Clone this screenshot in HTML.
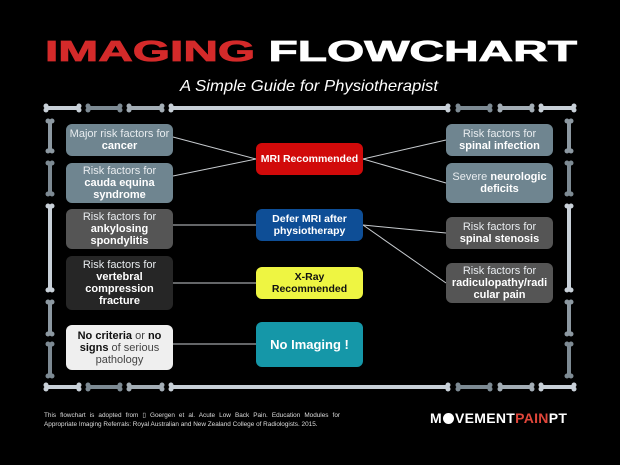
<!DOCTYPE html>
<html><head><meta charset="utf-8"><style>
html,body{margin:0;padding:0;background:#000;}
body{width:620px;height:465px;overflow:hidden;position:relative;font-family:"Liberation Sans",sans-serif;}
.b{position:absolute;border-radius:6px;display:flex;align-items:center;justify-content:center;text-align:center;font-size:11px;line-height:12px;color:#e8ecef;box-sizing:border-box;padding:0 3px;}
.b b{font-weight:bold;color:#fff;}
.c{font-weight:bold;font-size:10.5px;padding:0 2px;}
</style></head><body>
<svg width="620" height="465" style="position:absolute;left:0;top:0">
<text x="311" y="61" text-anchor="middle" font-family="Liberation Sans" font-weight="bold" font-size="29" stroke-width="0.8" textLength="532" lengthAdjust="spacingAndGlyphs"><tspan fill="#d42a2a" stroke="#d42a2a">IMAGING</tspan><tspan fill="#fff" stroke="#fff"> FLOWCHART</tspan></text>
<text x="309" y="91" text-anchor="middle" font-family="Liberation Sans" font-style="italic" font-size="16" fill="#fff" textLength="258" lengthAdjust="spacingAndGlyphs">A Simple Guide for Physiotherapist</text>
<g stroke-linecap="round">
<g id="h">
<line x1="47" y1="108" x2="78" y2="108" stroke="#c8d0d8" stroke-width="4"/>
<circle cx="46" cy="106" r="2.5" fill="#c8d0d8"/><circle cx="46" cy="110" r="2.5" fill="#c8d0d8"/><circle cx="79" cy="106" r="2.5" fill="#c8d0d8"/><circle cx="79" cy="110" r="2.5" fill="#c8d0d8"/>
<line x1="89" y1="108" x2="119" y2="108" stroke="#7d8a93" stroke-width="4"/>
<circle cx="88" cy="106" r="2.5" fill="#7d8a93"/><circle cx="88" cy="110" r="2.5" fill="#7d8a93"/><circle cx="120" cy="106" r="2.5" fill="#7d8a93"/><circle cx="120" cy="110" r="2.5" fill="#7d8a93"/>
<line x1="130" y1="108" x2="161" y2="108" stroke="#a3adb5" stroke-width="4"/>
<circle cx="129" cy="106" r="2.5" fill="#a3adb5"/><circle cx="129" cy="110" r="2.5" fill="#a3adb5"/><circle cx="162" cy="106" r="2.5" fill="#a3adb5"/><circle cx="162" cy="110" r="2.5" fill="#a3adb5"/>
<line x1="172" y1="108" x2="447" y2="108" stroke="#c8d0d8" stroke-width="4"/>
<circle cx="171" cy="106" r="2.5" fill="#c8d0d8"/><circle cx="171" cy="110" r="2.5" fill="#c8d0d8"/><circle cx="448" cy="106" r="2.5" fill="#c8d0d8"/><circle cx="448" cy="110" r="2.5" fill="#c8d0d8"/>
<line x1="459" y1="108" x2="489" y2="108" stroke="#7d8a93" stroke-width="4"/>
<circle cx="458" cy="106" r="2.5" fill="#7d8a93"/><circle cx="458" cy="110" r="2.5" fill="#7d8a93"/><circle cx="490" cy="106" r="2.5" fill="#7d8a93"/><circle cx="490" cy="110" r="2.5" fill="#7d8a93"/>
<line x1="501" y1="108" x2="531" y2="108" stroke="#a3adb5" stroke-width="4"/>
<circle cx="500" cy="106" r="2.5" fill="#a3adb5"/><circle cx="500" cy="110" r="2.5" fill="#a3adb5"/><circle cx="532" cy="106" r="2.5" fill="#a3adb5"/><circle cx="532" cy="110" r="2.5" fill="#a3adb5"/>
<line x1="542" y1="108" x2="573" y2="108" stroke="#c8d0d8" stroke-width="4"/>
<circle cx="541" cy="106" r="2.5" fill="#c8d0d8"/><circle cx="541" cy="110" r="2.5" fill="#c8d0d8"/><circle cx="574" cy="106" r="2.5" fill="#c8d0d8"/><circle cx="574" cy="110" r="2.5" fill="#c8d0d8"/>
</g>
<use href="#h" y="279"/>
<g id="v">
<line x1="50" y1="122" x2="50" y2="150" stroke="#8c98a1" stroke-width="4"/>
<circle cx="48" cy="121" r="2.5" fill="#8c98a1"/><circle cx="52" cy="121" r="2.5" fill="#8c98a1"/><circle cx="48" cy="151" r="2.5" fill="#8c98a1"/><circle cx="52" cy="151" r="2.5" fill="#8c98a1"/>
<line x1="50" y1="164" x2="50" y2="193" stroke="#7d8a93" stroke-width="4"/>
<circle cx="48" cy="163" r="2.5" fill="#7d8a93"/><circle cx="52" cy="163" r="2.5" fill="#7d8a93"/><circle cx="48" cy="194" r="2.5" fill="#7d8a93"/><circle cx="52" cy="194" r="2.5" fill="#7d8a93"/>
<line x1="50" y1="207" x2="50" y2="289" stroke="#c8d0d8" stroke-width="4"/>
<circle cx="48" cy="206" r="2.5" fill="#c8d0d8"/><circle cx="52" cy="206" r="2.5" fill="#c8d0d8"/><circle cx="48" cy="290" r="2.5" fill="#c8d0d8"/><circle cx="52" cy="290" r="2.5" fill="#c8d0d8"/>
<line x1="50" y1="303" x2="50" y2="333" stroke="#8c98a1" stroke-width="4"/>
<circle cx="48" cy="302" r="2.5" fill="#8c98a1"/><circle cx="52" cy="302" r="2.5" fill="#8c98a1"/><circle cx="48" cy="334" r="2.5" fill="#8c98a1"/><circle cx="52" cy="334" r="2.5" fill="#8c98a1"/>
<line x1="50" y1="345" x2="50" y2="375" stroke="#7d8a93" stroke-width="4"/>
<circle cx="48" cy="344" r="2.5" fill="#7d8a93"/><circle cx="52" cy="344" r="2.5" fill="#7d8a93"/><circle cx="48" cy="376" r="2.5" fill="#7d8a93"/><circle cx="52" cy="376" r="2.5" fill="#7d8a93"/>
</g>
<use href="#v" x="519"/>
</g>
<g stroke="#c8ccd0" stroke-width="1">
<line x1="173" y1="137" x2="256" y2="159"/>
<line x1="173" y1="176" x2="256" y2="159"/>
<line x1="173" y1="225" x2="256" y2="225"/>
<line x1="173" y1="283" x2="256" y2="283"/>
<line x1="173" y1="344" x2="256" y2="344"/>
<line x1="363" y1="159" x2="446" y2="140"/>
<line x1="363" y1="159" x2="446" y2="183"/>
<line x1="363" y1="225" x2="446" y2="233"/>
<line x1="363" y1="225" x2="446" y2="283"/>
</g>
</svg>
<div class="b" style="left:66px;top:124px;width:107px;height:32px;background:#6f8590"><span>Major risk factors for<br><b>cancer</b></span></div>
<div class="b" style="left:66px;top:163px;width:107px;height:40px;background:#6f8590"><span>Risk factors for<br><b>cauda equina<br>syndrome</b></span></div>
<div class="b" style="left:66px;top:209px;width:107px;height:40px;background:#555"><span>Risk factors for<br><b>ankylosing<br>spondylitis</b></span></div>
<div class="b" style="left:66px;top:256px;width:107px;height:54px;background:#262626"><span>Risk factors for<br><b>vertebral<br>compression<br>fracture</b></span></div>
<div class="b" style="left:66px;top:325px;width:107px;height:45px;background:#efefef;color:#444"><span><b style="color:#111">No criteria</b> or <b style="color:#111">no<br>signs</b> of serious<br>pathology</span></div>

<div class="b c" style="left:256px;top:143px;width:107px;height:32px;background:#d10a0a;color:#fff"><span style="white-space:nowrap">MRI Recommended</span></div>
<div class="b c" style="left:256px;top:209px;width:107px;height:32px;background:#0e4e96;color:#fff"><span>Defer MRI after<br>physiotherapy</span></div>
<div class="b c" style="left:256px;top:267px;width:107px;height:32px;background:#eef542;color:#111"><span>X-Ray<br>Recommended</span></div>
<div class="b c" style="left:256px;top:322px;width:107px;height:45px;background:#1597a8;color:#fff;font-size:13px"><span>No Imaging !</span></div>

<div class="b" style="left:446px;top:124px;width:107px;height:32px;background:#6f8590"><span>Risk factors for<br><b>spinal infection</b></span></div>
<div class="b" style="left:446px;top:163px;width:107px;height:40px;background:#6f8590"><span>Severe <b>neurologic<br>deficits</b></span></div>
<div class="b" style="left:446px;top:217px;width:107px;height:32px;background:#555"><span>Risk factors for<br><b>spinal stenosis</b></span></div>
<div class="b" style="left:446px;top:263px;width:107px;height:40px;background:#555"><span>Risk factors for<br><b style="white-space:nowrap">radiculopathy/radi</b><br><b>cular pain</b></span></div>

<div style="position:absolute;left:44px;top:411px;width:296px;font-size:6.4px;line-height:9px;color:#ddd;text-align:justify;text-align-last:left">This flowchart is adopted from ▯ Goergen et al. Acute Low Back Pain. Education Modules for Appropriate Imaging Referrals: Royal Australian and New Zealand College of Radiologists. 2015.</div>
<div style="position:absolute;left:430px;top:410px;font-size:14px;font-weight:bold;color:#fff;letter-spacing:0.3px;white-space:nowrap">M<span style="display:inline-block;width:11px;height:11px;border-radius:50%;background:#fff;vertical-align:-1px;margin:0 1px"></span>VEMENT<span style="color:#e0463a">PAIN</span>PT</div>
</body></html>
